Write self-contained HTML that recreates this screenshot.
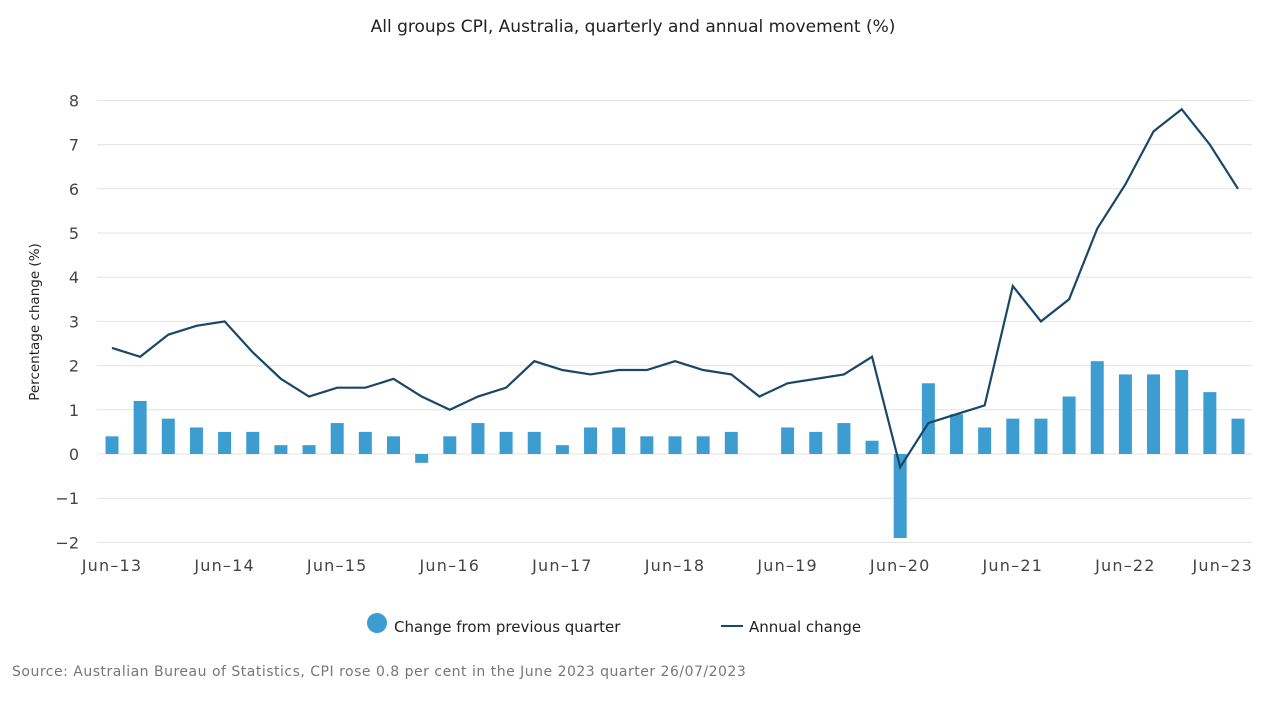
<!DOCTYPE html>
<html><head><meta charset="utf-8"><style>
body{margin:0;background:#fff;font-family:"DejaVu Sans",sans-serif;}
svg text{font-family:"DejaVu Sans",sans-serif;}
</style></head><body>
<svg id="chart" width="1266" height="703">
<text x="633" y="32" text-anchor="middle" font-size="17" fill="#222">All groups CPI, Australia, quarterly and annual movement (%)</text>
<g id="grid"></g><g id="bars"></g><g id="line"></g><g id="axes"></g>
<text transform="translate(39,322) rotate(-90)" text-anchor="middle" font-size="13.5" fill="#222">Percentage change (%)</text>
<g><circle cx="377" cy="623" r="10" fill="#3d9dd1"/><text x="394" y="632" font-size="15" fill="#222">Change from previous quarter</text></g>
<g><line x1="721" y1="626" x2="743" y2="626" stroke="#1a4766" stroke-width="2"/><text x="749" y="632" font-size="15" fill="#222">Annual change</text></g>
<text x="12" y="676" font-size="14" letter-spacing="0.5" fill="#777">Source: Australian Bureau of Statistics, CPI rose 0.8 per cent in the June 2023 quarter 26/07/2023</text>
</svg>
<script>
const quarterly=[0.4,1.2,0.8,0.6,0.5,0.5,0.2,0.2,0.7,0.5,0.4,-0.2,0.4,0.7,0.5,0.5,0.2,0.6,0.6,0.4,0.4,0.4,0.5,0.0,0.6,0.5,0.7,0.3,-1.9,1.6,0.9,0.6,0.8,0.8,1.3,2.1,1.8,1.8,1.9,1.4,0.8];
const annual=[2.4,2.2,2.7,2.9,3.0,2.3,1.7,1.3,1.5,1.5,1.7,1.3,1.0,1.3,1.5,2.1,1.9,1.8,1.9,1.9,2.1,1.9,1.8,1.3,1.6,1.7,1.8,2.2,-0.3,0.7,0.9,1.1,3.8,3.0,3.5,5.1,6.1,7.3,7.8,7.0,6.0];
const yTicks=[-2,-1,0,1,2,3,4,5,6,7,8];
const xLabels=["Jun\u201313","Jun\u201314","Jun\u201315","Jun\u201316","Jun\u201317","Jun\u201318","Jun\u201319","Jun\u201320","Jun\u201321","Jun\u201322","Jun\u201323"];
const NS="http://www.w3.org/2000/svg";
const x=i=>112+i*(1238-112)/(quarterly.length-1);
const y=v=>454-v*44.2;
function mk(t,a,p){const e=document.createElementNS(NS,t);for(const k in a)e.setAttribute(k,a[k]);p.appendChild(e);return e;}
const g=document.getElementById('grid'),ax=document.getElementById('axes');
yTicks.forEach(v=>{const l=mk('line',{x1:97,x2:1252,y1:y(v),y2:y(v),stroke:'#e3e3e3'},g);


const t=mk('text',{x:79,y:y(v)+6,'text-anchor':'end','font-size':16,fill:'#444'},ax);t.textContent=v<0?'\u2212'+(-v):v;

});
xLabels.forEach((s,k)=>{const last=k===xLabels.length-1;
const t=mk('text',{x:last?1253:x(k*4),y:571,'text-anchor':last?'end':'middle','font-size':16,'letter-spacing':1.2,fill:'#444'},ax);t.textContent=s;

});
const b=document.getElementById('bars');
quarterly.forEach((v,i)=>{const r=mk('rect',{x:x(i)-6.5,width:13,y:Math.min(y(v),y(0)),height:Math.abs(y(v)-y(0)),fill:'#3d9dd1'},b);

});
const p=mk('polyline',{points:annual.map((v,i)=>x(i)+','+y(v)).join(' '),fill:'none',stroke:'#1a4766','stroke-width':2.2},document.getElementById('line'));


</script>
</body></html>
